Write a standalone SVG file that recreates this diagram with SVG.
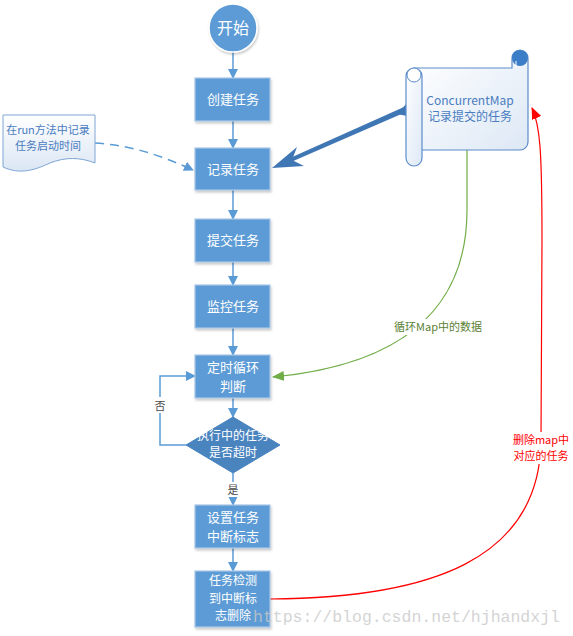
<svg xmlns="http://www.w3.org/2000/svg" width="573" height="636" viewBox="0 0 573 636">
<style>
.box{fill:#5b9bd5;stroke:#a9c6e6;stroke-width:1.2}
.bt{font-family:"Noto Sans CJK SC","Liberation Sans",sans-serif;font-size:13px;fill:#fff;text-anchor:middle}
.flow{stroke:#5b9bd5;stroke-width:1.5;fill:none}
.lbl{font-family:"Noto Sans CJK SC","Liberation Sans",sans-serif;font-size:11px;text-anchor:middle}
</style>
<defs>
<marker id="ab" markerWidth="10" markerHeight="10" refX="9" refY="5" orient="auto" markerUnits="userSpaceOnUse"><path d="M0,0 L10,5 L0,10 Z" fill="#5b9bd5"/></marker>
<marker id="ag" markerWidth="12" markerHeight="10" refX="11" refY="5" orient="auto" markerUnits="userSpaceOnUse"><path d="M0,0 L12,5 L0,10 Z" fill="#70ad47"/></marker>
<marker id="ar" markerWidth="12" markerHeight="10" refX="11" refY="5" orient="auto" markerUnits="userSpaceOnUse"><path d="M0,0 L12,5 L0,10 Z" fill="#ff0000"/></marker>
<linearGradient id="sg" x1="0" y1="0" x2="1" y2="1"><stop offset="0" stop-color="#ffffff"/><stop offset="1" stop-color="#dde8f5"/></linearGradient>
<linearGradient id="dg" x1="0" y1="0" x2="0" y2="1"><stop offset="0" stop-color="#ffffff"/><stop offset="1" stop-color="#dbe6f4"/></linearGradient>
<filter id="sh" x="-10%" y="-10%" width="130%" height="130%"><feDropShadow dx="1" dy="2" stdDeviation="1.2" flood-color="#000" flood-opacity="0.2"/></filter>
</defs>

<g id="connectors">
<line class="flow" x1="233" y1="52" x2="233" y2="78" marker-end="url(#ab)"/>
<line class="flow" x1="233" y1="121" x2="233" y2="148" marker-end="url(#ab)"/>
<line class="flow" x1="233" y1="190" x2="233" y2="219" marker-end="url(#ab)"/>
<line class="flow" x1="233" y1="262" x2="233" y2="285" marker-end="url(#ab)"/>
<line class="flow" x1="233" y1="328" x2="233" y2="355" marker-end="url(#ab)"/>
<line class="flow" x1="233" y1="398" x2="233" y2="417" marker-end="url(#ab)"/>
<line class="flow" x1="233" y1="473" x2="233" y2="505" marker-end="url(#ab)"/>
<line class="flow" x1="233" y1="548" x2="233" y2="571" marker-end="url(#ab)"/>
<path class="flow" d="M186,445 H160 V376 H195" marker-end="url(#ab)"/>
<path d="M95,143 C130,145 160,155 193,170" stroke="#5b9bd5" stroke-width="1.5" fill="none" stroke-dasharray="9,6" marker-end="url(#ab)"/>
<path d="M467,150 V210 C467,310 400,365 273,377" stroke="#70ad47" stroke-width="1.2" fill="none" marker-end="url(#ag)"/>
<path d="M270,599 C430,598 540,560 541,440 L542,240 C542,150 540,125 532,108" stroke="#ff0000" stroke-width="1.2" fill="none" marker-end="url(#ar)"/>
<g fill="#3f76b4" stroke="none">
<path d="M408,102 L407,116 L397,114 Z"/>
<path d="M404,107 L290,158 L291,162 L406,112 Z"/>
<path d="M272,168 L297,147 L292,160 L304,166 Z"/>
</g>
<rect x="152" y="397" width="16" height="16" fill="#fff"/>
<text class="lbl" x="160" y="410" fill="#4a4a4a">否</text>
<rect x="225" y="482" width="16" height="15" fill="#fff"/>
<text class="lbl" x="233" y="494" fill="#4a4a4a">是</text>
<rect x="393" y="319" width="90" height="16" fill="#fff"/>
<text class="lbl" x="438" y="331" fill="#5b7f35">循环Map中的数据</text>
<rect x="512" y="432" width="58" height="32" fill="#fff"/>
<text class="lbl" x="541" y="444" fill="#ff0000">删除map中</text>
<text class="lbl" x="541" y="460" fill="#ff0000">对应的任务</text>
</g>

<g id="start">
<circle cx="233" cy="28" r="24" fill="#5b9bd5" stroke="#fff" stroke-width="1.5" filter="url(#sh)"/>
<text x="233" y="34" font-family="Noto Sans CJK SC,sans-serif" font-size="16" fill="#fff" text-anchor="middle">开始</text>
</g>
<g id="create"><rect class="box" x="195" y="78" width="75" height="43" filter="url(#sh)"/><text class="bt" x="233" y="104">创建任务</text></g>
<g id="record"><rect class="box" x="195" y="148" width="75" height="42" filter="url(#sh)"/><text class="bt" x="233" y="174">记录任务</text></g>
<g id="submit"><rect class="box" x="195" y="219" width="75" height="43" filter="url(#sh)"/><text class="bt" x="233" y="245">提交任务</text></g>
<g id="monitor"><rect class="box" x="195" y="285" width="75" height="43" filter="url(#sh)"/><text class="bt" x="233" y="311">监控任务</text></g>
<g id="loop"><rect class="box" x="195" y="355" width="75" height="43" filter="url(#sh)"/><text class="bt" x="233" y="372">定时循环</text><text class="bt" x="233" y="391">判断</text></g>
<g id="decision"><path d="M233,417 L280,445 L233,473 L186,445 Z" fill="#4a84bf" stroke="#4a84bf"/><text class="bt" x="233" y="440" style="font-size:12px">执行中的任务</text><text class="bt" x="233" y="457" style="font-size:12px">是否超时</text></g>
<g id="setflag"><rect class="box" x="195" y="505" width="75" height="43" filter="url(#sh)"/><text class="bt" x="233" y="522">设置任务</text><text class="bt" x="233" y="541">中断标志</text></g>
<g id="detect"><rect class="box" x="195" y="571" width="75" height="56" filter="url(#sh)"/><text class="bt" x="233" y="585" style="font-size:12px">任务检测</text><text class="bt" x="233" y="602.5" style="font-size:12px">到中断标</text><text class="bt" x="233" y="620" style="font-size:12px">志删除</text></g>

<g id="note">
<path d="M3,115 H95 V163 C80,157 65,157 50,163 C35,170 20,175 3,167 Z" fill="url(#dg)" stroke="#7ea6d4" stroke-width="1"/>
<text x="48" y="134" font-family="Noto Sans CJK SC,sans-serif" font-size="11" fill="#4a7cc0" text-anchor="middle">在run方法中记录</text>
<text x="48" y="150" font-family="Noto Sans CJK SC,sans-serif" font-size="11" fill="#4a7cc0" text-anchor="middle">任务启动时间</text>
</g>

<g id="map">
<path d="M414,68 H512 V58 A8,8 0 0 1 528,58 V142 A8,8 0 0 1 520,150 H422" fill="url(#sg)" stroke="#5b8ccc" stroke-width="1.2"/>
<rect x="406" y="68" width="16" height="98" rx="8" fill="url(#sg)" stroke="#5b8ccc" stroke-width="1.2"/>
<circle cx="414" cy="75" r="7" fill="#fff" stroke="#5b8ccc" stroke-width="1"/>
<circle cx="520" cy="58" r="8" fill="#3b7dc6"/>
<path d="M516,68 V61" stroke="#fff" stroke-width="1"/>
<text x="470" y="105" font-family="Noto Sans CJK SC,sans-serif" font-size="12" fill="#4a7cc0" text-anchor="middle">ConcurrentMap</text>
<text x="470" y="121" font-family="Noto Sans CJK SC,sans-serif" font-size="12" fill="#4a7cc0" text-anchor="middle">记录提交的任务</text>
</g>

<text x="253" y="622" font-family="Liberation Mono,monospace" font-size="16.5" fill="#c8c8c8" fill-opacity="0.8">https://blog.csdn.net/hjhandxjl</text>
</svg>
